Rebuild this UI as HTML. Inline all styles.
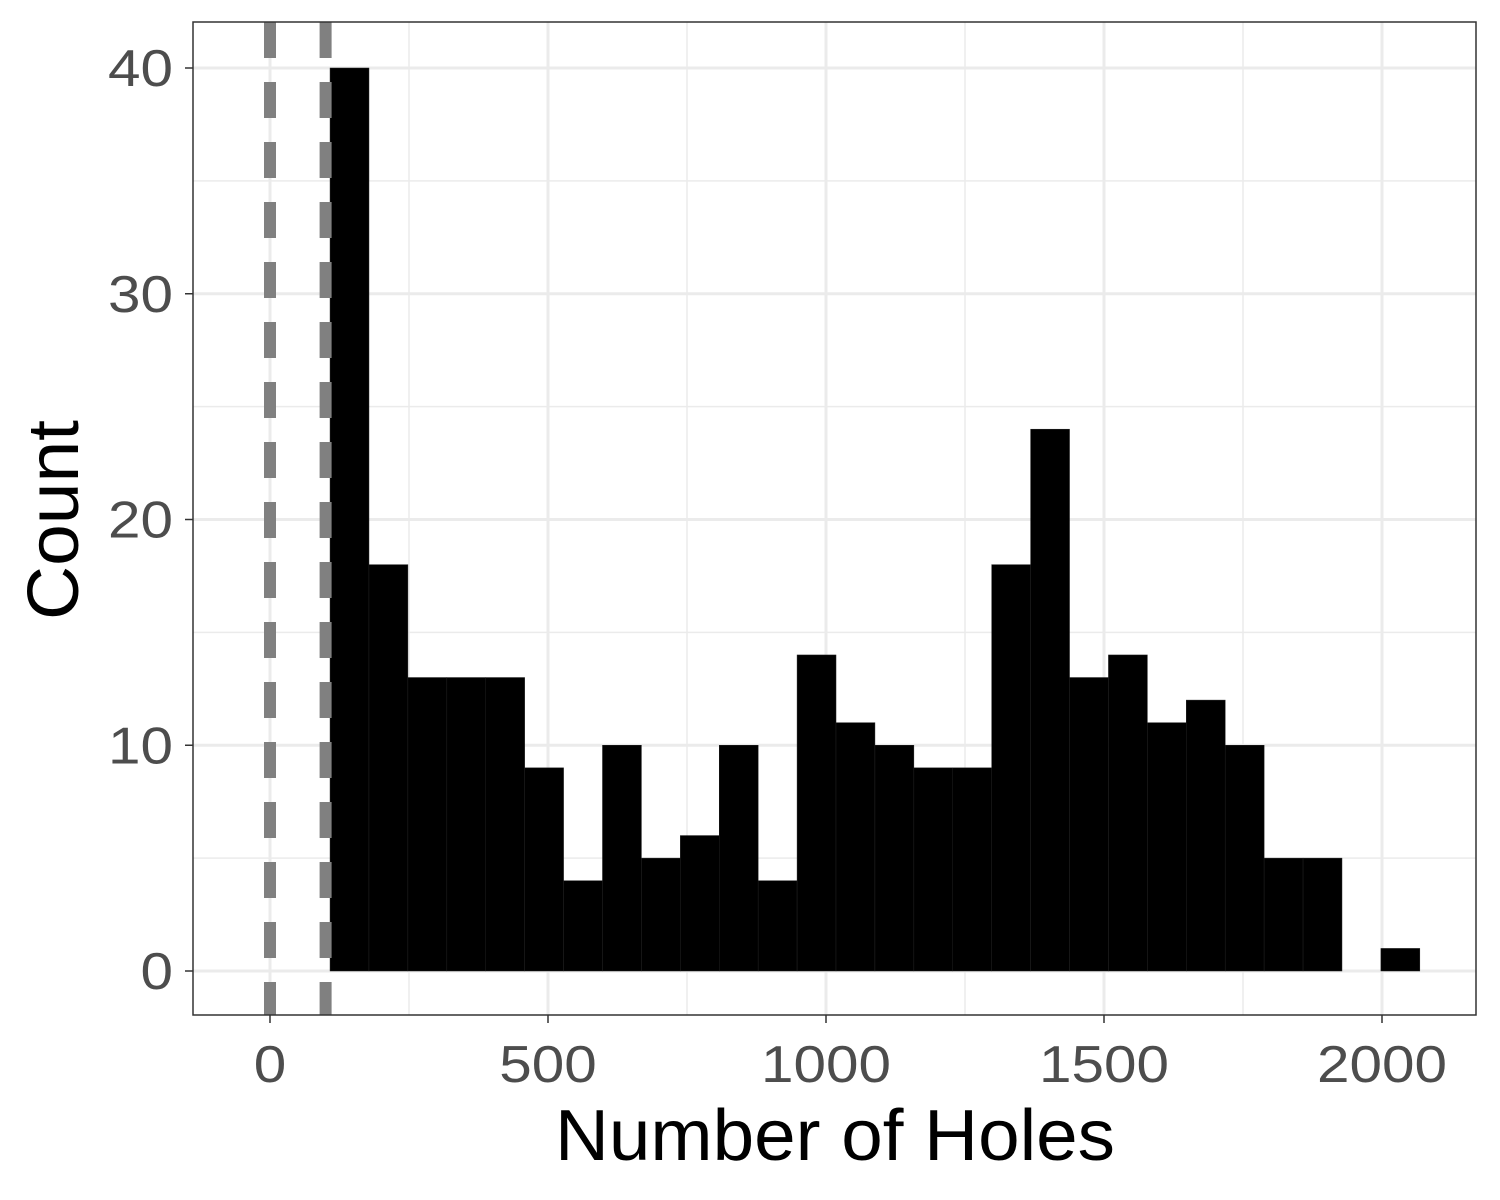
<!DOCTYPE html>
<html><head><meta charset="utf-8"><style>
html,body{margin:0;padding:0;background:#fff;}
svg{display:block;font-family:"Liberation Sans",Arial,sans-serif;}
</style></head><body>
<svg id="chart" width="1500" height="1200" viewBox="0 0 1500 1200" xmlns="http://www.w3.org/2000/svg">
<rect x="193" y="22" width="1283" height="993" fill="#fff"/>
<g id="grid"></g>
<g id="bars"></g>
<g id="vlines"></g>
<rect x="193" y="22" width="1283" height="993" fill="none" stroke="#333" stroke-width="1.5"/>
<g id="axes"></g>
<text x="835" y="1160" font-size="72" text-anchor="middle" fill="#000" textLength="560" lengthAdjust="spacingAndGlyphs">Number of Holes</text>
<text transform="translate(78,520) rotate(-90)" font-size="72" text-anchor="middle" fill="#000" textLength="200" lengthAdjust="spacingAndGlyphs">Count</text>
</svg>
<script>
const binStart = 108;
const binWidth = 70;
const counts = [40,18,13,13,13,9,4,10,5,6,10,4,14,11,10,9,9,18,24,13,14,11,12,10,5,5,0,1];
const xTicks = [0,500,1000,1500,2000];
const xMinor = [250,750,1250,1750];
const yTicks = [0,10,20,30,40];
const yMinor = [5,15,25,35];
const refLines = [0,100];

const NS="http://www.w3.org/2000/svg";
const X = v => 270 + (v)*0.556;
const Y = v => 971 - v*22.575;
const L=193,R=1476,T=22,B=1015;
function mk(tag,attrs,parent){const e=document.createElementNS(NS,tag);for(const k in attrs)e.setAttribute(k,attrs[k]);parent.appendChild(e);return e;}
const grid=document.getElementById('grid');
xMinor.forEach(v=>{const e=mk('line',{x1:X(v),x2:X(v),y1:T,y2:B,stroke:'#ebebeb','stroke-width':1.5},grid);

});
yMinor.forEach(v=>{const e=mk('line',{x1:L,x2:R,y1:Y(v),y2:Y(v),stroke:'#ebebeb','stroke-width':1.5},grid);

});
xTicks.forEach(v=>{const e=mk('line',{x1:X(v),x2:X(v),y1:T,y2:B,stroke:'#ebebeb','stroke-width':3},grid);

});
yTicks.forEach(v=>{const e=mk('line',{x1:L,x2:R,y1:Y(v),y2:Y(v),stroke:'#ebebeb','stroke-width':3},grid);

});
const bars=document.getElementById('bars');
counts.forEach((c,i)=>{if(c<=0)return;const x0=X(binStart+i*binWidth),x1=X(binStart+(i+1)*binWidth);
const e=mk('rect',{x:x0,y:Y(c),width:x1-x0,height:Y(0)-Y(c),fill:'#000',stroke:'#222','stroke-width':0.5},bars);

});
const vl=document.getElementById('vlines');
refLines.forEach(v=>{const e=mk('line',{x1:X(v),x2:X(v),y1:T,y2:B,stroke:'#808080','stroke-width':12,'stroke-dasharray':'36 24'},vl);

});
const ax=document.getElementById('axes');
xTicks.forEach(v=>{const t=mk('line',{x1:X(v),x2:X(v),y1:B,y2:B+8,stroke:'#333','stroke-width':1.5},ax);


const l=mk('text',{x:X(v),y:1082,'font-size':52,'text-anchor':'middle',fill:'#4d4d4d',textLength:String(v).length*32.5,lengthAdjust:'spacingAndGlyphs'},ax);l.textContent=v;

});
yTicks.forEach(v=>{const t=mk('line',{x1:L-8,x2:L,y1:Y(v),y2:Y(v),stroke:'#333','stroke-width':1.5},ax);


const l=mk('text',{x:173,y:Y(v)+18,'font-size':52,'text-anchor':'end',fill:'#4d4d4d',textLength:String(v).length*32.5,lengthAdjust:'spacingAndGlyphs'},ax);l.textContent=v;

});
</script>
</body></html>
